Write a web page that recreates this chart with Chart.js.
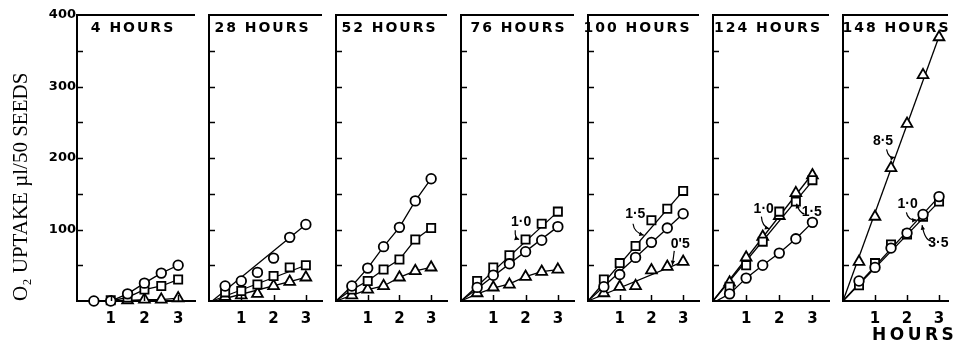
<!DOCTYPE html>
<html><head><meta charset="utf-8">
<script src="https://cdn.jsdelivr.net/npm/chart.js@4/dist/chart.umd.min.js"></script>
<style>
html,body{margin:0;padding:0;background:#fff;}
#wrap{position:relative;width:956px;height:348px;overflow:hidden;background:#fff;}
#wrap canvas{position:absolute;top:0;}
</style></head><body><div id="wrap"></div>
<script>
// ---------- data ----------
const panelTitles = ['4 HOURS','28 HOURS','52 HOURS','76 HOURS','100 HOURS','124 HOURS','148 HOURS'];
const hoursX = [0.5, 1, 1.5, 2, 2.5, 3];
const xTickValues = [1, 2, 3];
const xTickLabels = ['1', '2', '3'];
const yTickValues = [100, 200, 300, 400];
const yTickLabels = ['100', '200', '300', '400'];
const yAxisTitle = 'O\u2082 UPTAKE \u00b5l/50 SEEDS';
const xAxisTitle = 'HOURS';

const circleValues = [
  [0, 0, 10, 25, 39, 50],
  [21, 28, 40, 60, 89, 107],
  [21, 46, 76, 103, 140, 171],
  [19, 36, 52, 69, 85, 104],
  [20, 37, 61, 82, 102, 122],
  [10, 32, 50, 67, 87, 110],
  [28, 47, 74, 95, 121, 146]
];
const squareValues = [
  [null, 1, 5, 16, 21, 30],
  [12, 14, 23, 35, 47, 50],
  [16, 28, 44, 58, 86, 102],
  [28, 47, 64, 86, 108, 125],
  [30, 53, 77, 113, 129, 154],
  [20, 50, 83, 125, 139, 169],
  [22, 53, 79, 93, 118, 139]
];
const triangleValues = [
  [null, null, 1, 2, 2, 4],
  [6, 8, 10, 21, 27, 33],
  [8, 16, 21, 33, 42, 47],
  [11, 19, 23, 34, 41, 44],
  [11, 20, 21, 43, 48, 55],
  [26, 61, 90, 119, 151, 176],
  [55, 118, 186, 248, 316, 369]
];
// drawn (fitted) lines, as [hours, uptake] vertices
const circleLines = [
  [[0.3,0],[1,0],[1.5,10],[2,25],[2.5,39],[3,50]],
  [[0.1,0],[3,107]],
  [[0,0],[0.5,21],[1,46],[1.5,76],[2,103],[2.5,140],[3,171]],
  [[0,0],[3,104]],
  [[0,0],[3,122]],
  [[0.1,0],[0.5,10],[1,32],[1.5,50],[2,67],[2.5,87],[3,110]],
  [[0,0],[3,146]]
];
const squareLines = [
  [[1,0],[1.5,5],[2,16],[2.5,21],[3,30]],
  [[0.1,0],[3,50]],
  [[0,0],[0.5,16],[1,28],[1.5,44],[2,58],[2.5,86],[3,102]],
  [[0,0],[3,125]],
  [[0,0],[3,154]],
  [[0,0],[3,168]],
  [[0,0],[3,139]]
];
const triangleLines = [
  [[1.2,0],[2,2],[2.5,2],[3,4]],
  [[0.2,0],[3,33]],
  [[0,0],[0.5,8],[1,16],[1.5,21],[2,33],[2.5,42],[3,47]],
  [[0,0],[0.5,10],[1,18],[1.5,24],[2,34],[2.5,41],[3,44]],
  [[0,0],[3,55]],
  [[0,0],[3,178]],
  [[0,0],[3,370]]
];
// curve labels
const notePanels = [3, 4, 4, 5, 5, 6, 6, 6];
const noteTexts = ['1\u00b70', '1\u00b75', '0\'5', '1\u00b70', '1\u00b75', '8\u00b75', '1\u00b70', '3\u00b75'];

// ---------- layout (not data) ----------
const panelLefts = [77, 203, 330, 455, 582, 707, 837];
const panelRights = [203, 330, 455, 582, 707, 837, 955];
const panelXMax = [3.5, 3.5, 3.5, 3.5, 3.5, 3.5, 3.28];
const titleShift = [-4, -4, -3, 0, -7, -4, 0];
// label anchor [x,y], arrow start, control, end (in data units)
const notePlaces = [
  {at:[1.86,110], from:[1.68,99], ctrl:[1.66,88], to:[1.8,86]},
  {at:[1.49,121], from:[1.42,108], ctrl:[1.45,96], to:[1.76,92]},
  {at:[2.91,79], from:[2.72,70], ctrl:[2.69,60], to:[2.66,50]},
  {at:[1.53,128], from:[1.46,118], ctrl:[1.48,104], to:[1.7,101]},
  {at:[2.98,124], from:[2.76,122], ctrl:[2.6,123], to:[2.52,136]},
  {at:[1.25,224], from:[1.36,212], ctrl:[1.42,199], to:[1.62,201]},
  {at:[2.02,135], from:[1.98,124], ctrl:[2.02,113], to:[2.3,113]},
  {at:[2.98,81], from:[2.76,84], ctrl:[2.56,84], to:[2.47,106]}
];

function arrowHead(ctx, x1, y1, x2, y2) {
  const ang = Math.atan2(y2 - y1, x2 - x1), L = 5;
  ctx.beginPath();
  ctx.moveTo(x2, y2);
  ctx.lineTo(x2 - L * Math.cos(ang - 0.45), y2 - L * Math.sin(ang - 0.45));
  ctx.lineTo(x2 - L * Math.cos(ang + 0.45), y2 - L * Math.sin(ang + 0.45));
  ctx.closePath();
  ctx.fill();
}

const decor = {
  id: 'decor',
  afterDraw(chart, args, o) {
    const {ctx, chartArea: a, scales: {x, y}} = chart;
    ctx.save();
    ctx.strokeStyle = '#000';
    ctx.fillStyle = '#000';
    // top frame line
    ctx.lineWidth = 2;
    ctx.beginPath(); ctx.moveTo(a.left - 1, a.top); ctx.lineTo(a.right, a.top); ctx.stroke();
    // inward ticks
    ctx.lineWidth = 1.5;
    for (let v = 50; v < 400; v += 50) {
      const py = Math.round(y.getPixelForValue(v)) + 0.5;
      ctx.beginPath(); ctx.moveTo(a.left, py); ctx.lineTo(a.left + 6, py); ctx.stroke();
    }
    for (const v of xTickValues) {
      const px = Math.round(x.getPixelForValue(v)) + 0.5;
      ctx.beginPath(); ctx.moveTo(px, a.bottom); ctx.lineTo(px, a.bottom - 6); ctx.stroke();
    }
    // panel title
    ctx.font = 'bold 14px "DejaVu Sans"';
    ctx.letterSpacing = '2px';
    ctx.textAlign = 'center';
    ctx.textBaseline = 'middle';
    ctx.fillText(o.title, (a.left + a.right) / 2 + o.shift + 1, 28);
    ctx.letterSpacing = '0px';
    // curve labels with arrows
    ctx.font = 'bold 14px "Liberation Sans"';
    ctx.lineWidth = 1.2;
    notePanels.forEach((p, k) => {
      if (p !== o.index) return;
      const n = notePlaces[k];
      const P = (q) => [x.getPixelForValue(q[0]), y.getPixelForValue(q[1])];
      const t = P(n.at), f = P(n.from), c = P(n.ctrl), e = P(n.to);
      ctx.fillText(noteTexts[k], t[0], t[1]);
      ctx.beginPath(); ctx.moveTo(f[0], f[1]); ctx.quadraticCurveTo(c[0], c[1], e[0], e[1]); ctx.stroke();
      arrowHead(ctx, c[0], c[1], e[0], e[1]);
    });
    // x axis title under the last panel
    if (o.index === panelTitles.length - 1) {
      ctx.font = 'bold 17px "DejaVu Sans"';
      ctx.letterSpacing = '3.5px';
      ctx.textAlign = 'left';
      ctx.fillText(xAxisTitle, a.left + 29, 336);
    }
    ctx.restore();
  }
};

const wrap = document.getElementById('wrap');
const pts = (vals) => hoursX.map((xv, k) => ({x: xv, y: vals[k]})).filter(p => p.y !== null);
const verts = (arr) => arr.map(([xv, yv]) => ({x: xv, y: yv}));
const markerDs = (data, style, r) => ({
  data, showLine: false, pointStyle: style, pointRadius: r,
  pointBackgroundColor: '#fff', pointBorderColor: '#000', pointBorderWidth: 1.8,
  order: 0, clip: false
});
const lineDs = (data) => ({
  data, showLine: true, pointRadius: 0, borderColor: '#000', borderWidth: 1.3,
  order: 1, clip: false, tension: 0
});

panelTitles.forEach((title, i) => {
  const first = i === 0;
  const cLeft = first ? 0 : panelLefts[i] - 2;
  const w = panelRights[i] - cLeft + (i === panelTitles.length - 1 ? 1 : 0);
  const cv = document.createElement('canvas');
  cv.width = w; cv.height = 348;
  cv.style.left = cLeft + 'px'; cv.style.width = w + 'px'; cv.style.height = '348px';
  wrap.appendChild(cv);
  const yW = first ? 77 : 2;
  new Chart(cv, {
    type: 'scatter',
    data: {
      datasets: [
        markerDs(pts(circleValues[i]), 'circle', 4.8),
        markerDs(pts(squareValues[i]), 'rect', 5.8),
        markerDs(pts(triangleValues[i]), 'triangle', 6.2),
        lineDs(verts(circleLines[i])),
        lineDs(verts(squareLines[i])),
        lineDs(verts(triangleLines[i]))
      ]
    },
    options: {
      responsive: false, animation: false, events: [],
      devicePixelRatio: 1,
      layout: {padding: {top: 15, right: i === panelTitles.length - 1 ? 1 : 0, left: 0, bottom: 0}},
      plugins: {legend: {display: false}, tooltip: {enabled: false},
        decor: {title, index: i, shift: titleShift[i]}},
      scales: {
        x: {
          type: 'linear', min: 0, max: panelXMax[i],
          afterFit(s) { s.height = 47; },
          afterBuildTicks(s) { s.ticks = xTickValues.map(v => ({value: v})); },
          grid: {display: false, drawTicks: false},
          border: {display: true, color: '#000', width: 2},
          ticks: {
            callback: (v) => xTickLabels[xTickValues.indexOf(v)] ?? '',
            font: {family: '"DejaVu Sans"', size: 15, weight: 'bold'},
            color: '#000', padding: 9, maxRotation: 0, autoSkip: false
          }
        },
        y: {
          min: 0, max: 400,
          afterFit(s) { s.width = yW; },
          afterBuildTicks(s) { s.ticks = yTickValues.map(v => ({value: v})); },
          grid: {display: false, drawTicks: false},
          border: {display: true, color: '#000', width: 2},
          ticks: {
            display: first,
            callback: (v) => yTickLabels[yTickValues.indexOf(v)] ?? '',
            font: {family: '"DejaVu Sans"', size: 13, weight: 'bold'},
            color: '#000', padding: 1
          },
          title: {
            display: first, text: yAxisTitle, align: 'start',
            font: {family: '"Liberation Serif"', size: 21},
            color: '#000', padding: {top: 9, bottom: 0}
          }
        }
      }
    },
    plugins: [decor]
  });
});
</script>
</body></html>
